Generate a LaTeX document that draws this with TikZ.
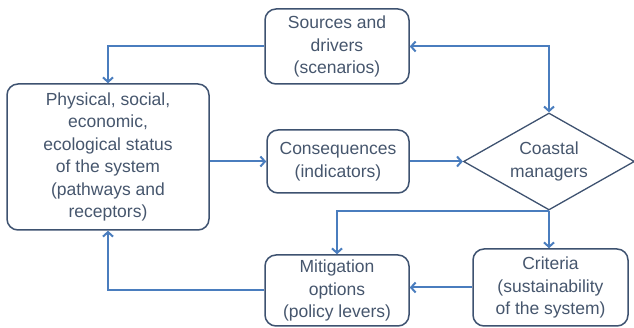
\documentclass[tikz,border=0pt]{standalone}
\usepackage{fontspec}
\setmainfont{Liberation Sans}
\usepackage{tikz}
\usetikzlibrary{arrows.meta,shapes.geometric}
\definecolor{boxline}{HTML}{3E5270}
\definecolor{boxtext}{HTML}{46566D}
\definecolor{flowline}{HTML}{4A7DBE}
\tikzset{
	box/.style={draw=boxline, line width=1.5pt, rounded corners=11pt, text=boxtext, align=center, inner sep=0pt, font=\fontsize{17.5}{22.5}\selectfont},
	flow/.style={draw=flowline, line width=2pt, -{Straight Barb[length=4.5pt,width=10pt]}},
	flowboth/.style={draw=flowline, line width=2pt, {Straight Barb[length=4.5pt,width=10pt]}-{Straight Barb[length=4.5pt,width=10pt]}}
}

\begin{document}
\begin{tikzpicture}[x=1pt, y=-1pt]
		%%%%% START %%%%%
		
		\useasboundingbox (0, 0) rectangle (634, 328);
		
		\node[box, minimum width=144, minimum height=75] (src) at (337, 46.5) {Sources and\\drivers\\(scenarios)};
		\node[box, minimum width=202, minimum height=146] (phys) at (108, 157) {Physical, social,\\economic,\\ecological status\\of the system\\(pathways and\\receptors)};
		\node[box, minimum width=142, minimum height=63] (cons) at (338, 161.5) {Consequences\\(indicators)};
		\node[box, rounded corners=0pt, line width=1.3pt, shape=diamond, aspect=1.76, minimum width=171, minimum height=97] (mgr) at (549, 161.5) {Coastal\\managers};
		\node[box, minimum width=155, minimum height=77] (crit) at (550.5, 287.5) {Criteria\\(sustainability\\of the system)};
		\node[box, minimum width=144, minimum height=71] (mit) at (337, 290.5) {Mitigation\\options\\(policy levers)};
		
		\draw[flow] (src.west) -| (phys.north);
		\draw[flowboth] (src.east) -| (mgr.north);
		
		\draw[flow] (phys.east |- cons.west) -- (cons.west);
		\draw[flow] (cons.east) -- (mgr.west);
		
		\draw[flow] (mgr.south) -- (mgr.south |- crit.north);
		\draw[flow] (mgr.south) -| (mit.north);
		
		\draw[flow] (crit.west) -- (crit.west -| mit.east);
		\draw[flow] (mit.west) -| (phys.south);
		
		%%%%% END %%%%%
	\end{tikzpicture}
\end{document}
